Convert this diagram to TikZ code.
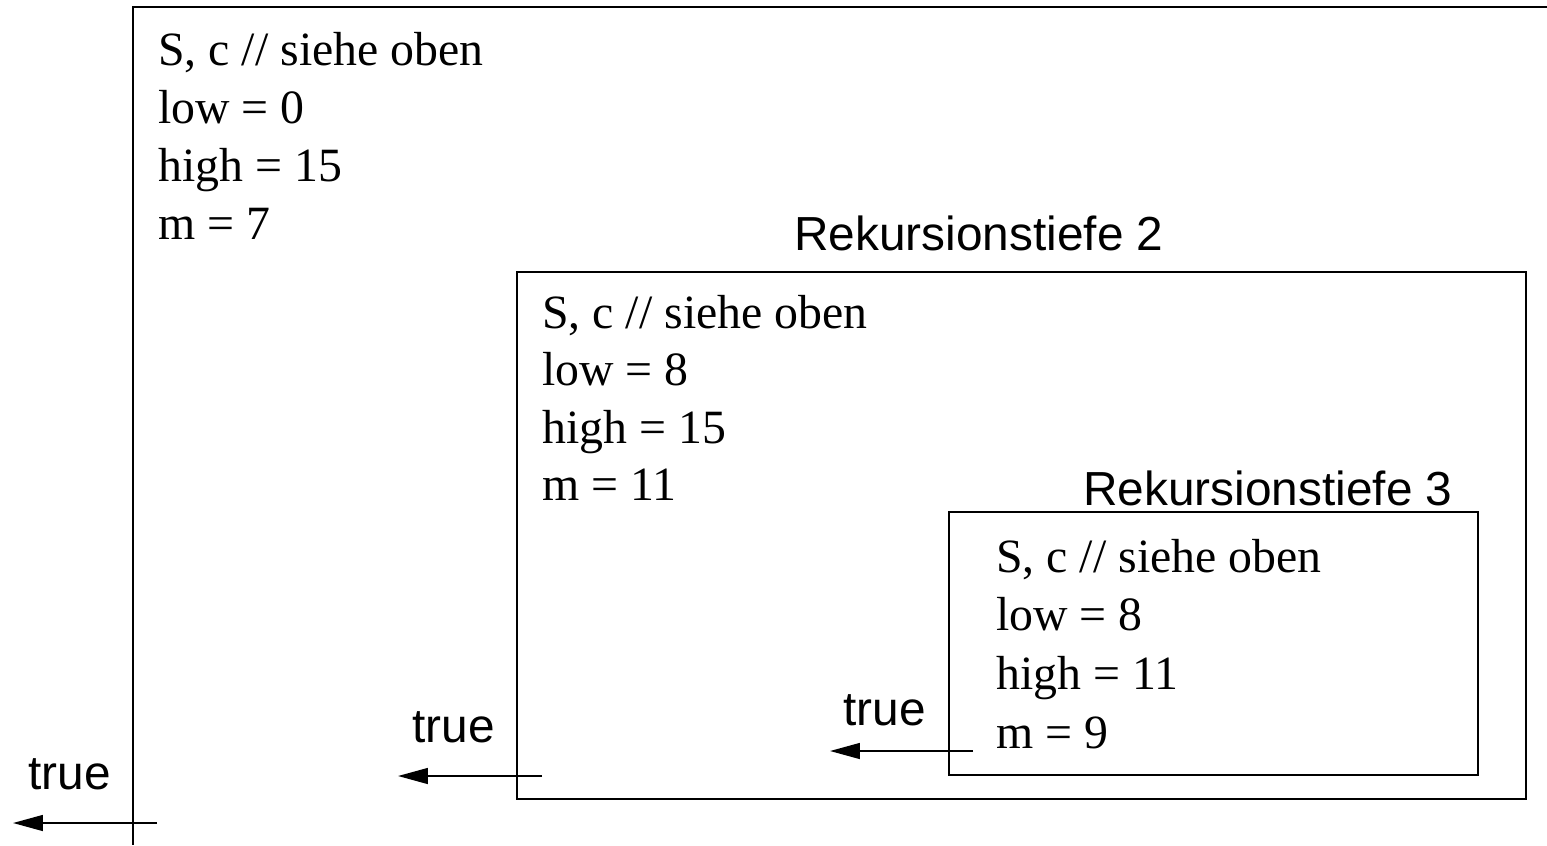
\documentclass[tikz,border=0pt]{standalone}
\usepackage{fontspec}
\setmainfont{Liberation Serif}
\setsansfont{Liberation Sans}
\usetikzlibrary{arrows.meta}

\tikzset{
  frame/.style={draw=black, line width=1.1pt},
  zeile/.style={anchor=base west, inner sep=0pt, font=\fontsize{27.2}{33}\selectfont},
  marke/.style={anchor=base west, inner sep=0pt, font=\fontsize{27.2}{33}\selectfont\sffamily},
  rueck/.style={line width=1.1pt, -{Triangle[length=17pt,width=9pt]}},
}

\begin{document}
\begin{tikzpicture}[x=0.02cm, y=-0.02cm]
\useasboundingbox (0,0) rectangle (1547,845);

% Rahmen der drei Aufrufe
\draw[frame] (1547,7) -- (133,7) -- (133,845);
\draw[frame] (517,272) rectangle (1526,799);
\draw[frame] (949,512) rectangle (1478,775);

% Rekursionstiefe 1
\foreach \t [count=\i] in {{S, c // siehe oben}, {low = 0}, {high = 15}, {m = 7}}
  \node[zeile] (a\i) at (158,{65+58*(\i-1)}) {\t};

% Rekursionstiefe 2
\node[marke] (tiefe2) at (794,250) {Rekursionstiefe 2};
\foreach \t [count=\i] in {{S, c // siehe oben}, {low = 8}, {high = 15}, {m = 11}}
  \node[zeile] (b\i) at (542,{328+57.5*(\i-1)}) {\t};

% Rekursionstiefe 3
\node[marke] (tiefe3) at (1083,505) {Rekursionstiefe 3};
\foreach \t [count=\i] in {{S, c // siehe oben}, {low = 8}, {high = 11}, {m = 9}}
  \node[zeile] (c\i) at (996,{572+58.7*(\i-1)}) {\t};

% Rueckgabewerte
\coordinate (r3s) at (973,751);
\coordinate (r3e) at (830,751);
\coordinate (r2s) at (542,776);
\coordinate (r2e) at (398,776);
\coordinate (r1s) at (157,823);
\coordinate (r1e) at (13,823);
\draw[rueck] (r3s) -- (r3e);
\draw[rueck] (r2s) -- (r2e);
\draw[rueck] (r1s) -- (r1e);
\node[marke] (true3) at (843,725) {true};
\node[marke] (true2) at (412,742) {true};
\node[marke] (true1) at (28,789) {true};
\end{tikzpicture}
\end{document}
